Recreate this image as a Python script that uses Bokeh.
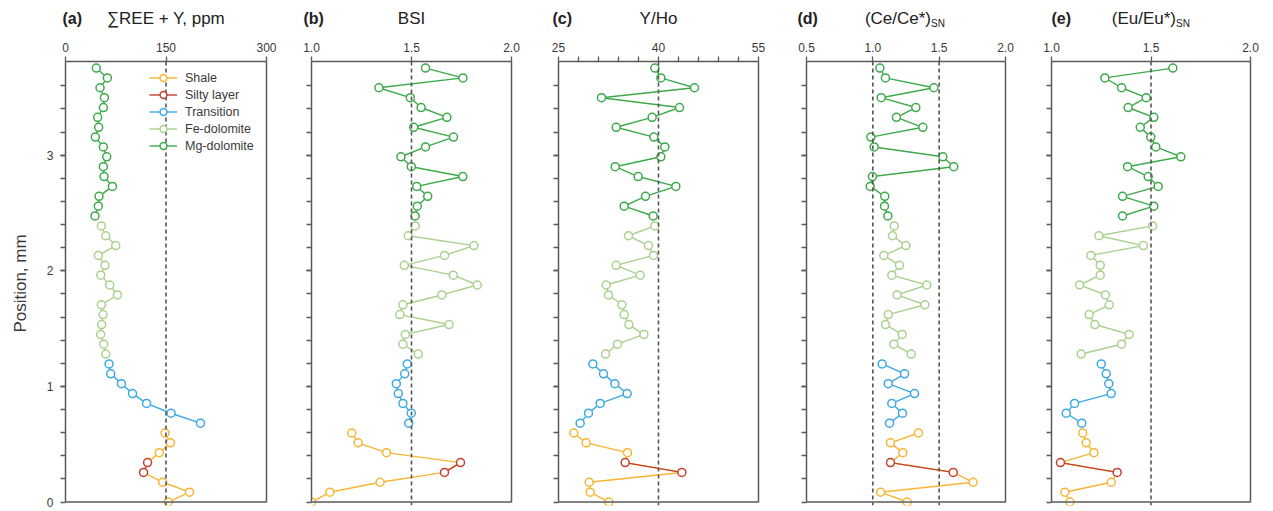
import numpy as np
from bokeh.plotting import figure
from bokeh.models import Range1d, LinearAxis, FixedTicker, Span, Legend, LegendItem
from bokeh.core.properties import value
from bokeh.layouts import row, column
from bokeh.embed import file_html
from bokeh.resources import INLINE

# ---------------- data (bottom -> top) ----------------
# sample positions, mm
pos_lower = [0.000, 0.085, 0.171, 0.256, 0.341, 0.427, 0.512, 0.597]   # shale incl. silty layer
silty_idx = [3, 4]                                                        # silty-layer samples in pos_lower
pos_transition = [0.682, 0.768, 0.853, 0.938, 1.024, 1.109, 1.194]
pos_fe = [1.280, 1.365, 1.450, 1.535, 1.621, 1.706, 1.791, 1.877, 1.962, 2.047,
          2.133, 2.218, 2.303, 2.388]
pos_mg = [2.474, 2.559, 2.644, 2.730, 2.815, 2.900, 2.986, 3.071, 3.156, 3.241,
          3.327, 3.412, 3.497, 3.583, 3.668, 3.753]

# (a) sum REE + Y, ppm
ree_lower = [153.5, 185, 145, 116.5, 122.5, 140, 156.5, 148.5]
ree_transition = [201.5, 157.5, 121, 100, 83.5, 67.5, 65]
ree_fe = [60, 57, 52.5, 54, 56, 53.5, 77.5, 66, 52.5, 59, 49, 75, 60, 53.5]
ree_mg = [44, 49, 50, 70, 57.5, 56.5, 61.5, 56.5, 44.5, 49.5, 48, 56.5, 58, 51.5, 62.5, 46]

# (b) BSI
bsi_lower = [1.00, 1.092, 1.343, 1.665, 1.745, 1.375, 1.233, 1.201]
bsi_transition = [1.486, 1.499, 1.457, 1.434, 1.424, 1.466, 1.479]
bsi_fe = [1.534, 1.457, 1.469, 1.688, 1.442, 1.457, 1.652, 1.829, 1.709, 1.464,
          1.665, 1.812, 1.484, 1.518]
bsi_mg = [1.518, 1.529, 1.581, 1.526, 1.757, 1.499, 1.447, 1.570, 1.710, 1.511,
          1.677, 1.548, 1.494, 1.337, 1.757, 1.570]

# (c) Y/Ho
yho_lower = [32.55, 29.75, 29.6, 43.5, 35.0, 35.35, 29.15, 27.3]
yho_transition = [28.25, 29.5, 31.25, 35.3, 33.45, 31.75, 30.15]
yho_fe = [32.05, 33.85, 37.8, 35.55, 34.85, 34.5, 32.5, 32.15, 37.25, 33.65,
          39.25, 38.5, 35.5, 39.45]
yho_mg = [39.2, 34.85, 38.05, 42.6, 36.95, 33.5, 40.35, 40.95, 39.3, 33.65,
          39.05, 43.15, 31.45, 45.4, 40.35, 39.45]

# (d) (Ce/Ce*)SN
ce_lower = [1.259, 1.058, 1.756, 1.606, 1.133, 1.226, 1.133, 1.344]
ce_transition = [1.126, 1.224, 1.143, 1.314, 1.116, 1.239, 1.07]
ce_fe = [1.289, 1.158, 1.221, 1.095, 1.116, 1.392, 1.183, 1.407, 1.143, 1.201,
         1.083, 1.249, 1.148, 1.161]
ce_mg = [1.113, 1.088, 1.09, 0.98, 0.997, 1.61, 1.528, 1.01, 0.985, 1.377,
         1.178, 1.324, 1.063, 1.46, 1.095, 1.053]

# (e) (Eu/Eu*)SN
eu_lower = [1.092, 1.067, 1.30, 1.33, 1.045, 1.213, 1.174, 1.157]
eu_transition = [1.152, 1.074, 1.116, 1.30, 1.288, 1.275, 1.25]
eu_fe = [1.149, 1.352, 1.39, 1.218, 1.189, 1.29, 1.271, 1.141, 1.245, 1.245,
         1.198, 1.462, 1.238, 1.508]
eu_mg = [1.357, 1.514, 1.357, 1.536, 1.486, 1.382, 1.65, 1.524, 1.499, 1.446,
         1.514, 1.385, 1.476, 1.352, 1.268, 1.610]

legend_labels = ["Shale", "Silty layer", "Transition", "Fe-dolomite", "Mg-dolomite"]

y_ticks = [0, 1, 2, 3]
y_tick_labels = ["0", "1", "2", "3"]
y_label = "Position, mm"

panels = [
    dict(letter="(a)", name="\u2211REE + Y, ppm", sub=None, xr=(0, 300),
         ticks=[0, 150, 300], labels=["0", "150", "300"], minor=[], refs=[150],
         data=(ree_lower, ree_transition, ree_fe, ree_mg), lx=-3),
    dict(letter="(b)", name="BSI", sub=None, xr=(1.0, 2.0),
         ticks=[1.0, 1.5, 2.0], labels=["1.0", "1.5", "2.0"], minor=[], refs=[1.5],
         data=(bsi_lower, bsi_transition, bsi_fe, bsi_mg), lx=-8),
    dict(letter="(c)", name="Y/Ho", sub=None, xr=(25, 55),
         ticks=[25, 40, 55], labels=["25", "40", "55"],
         minor=[28, 31, 34, 37, 43, 46, 49, 52], refs=[40],
         data=(yho_lower, yho_transition, yho_fe, yho_mg), lx=-6),
    dict(letter="(d)", name="(Ce/Ce*)", sub="SN", xr=(0.5, 2.0),
         ticks=[0.5, 1.0, 1.5, 2.0], labels=["0.5", "1.0", "1.5", "2.0"], minor=[], refs=[1.0, 1.5],
         data=(ce_lower, ce_transition, ce_fe, ce_mg), lx=-9),
    dict(letter="(e)", name="(Eu/Eu*)", sub="SN", xr=(1.0, 2.0),
         ticks=[1.0, 1.5, 2.0], labels=["1.0", "1.5", "2.0"], minor=[], refs=[1.5],
         data=(eu_lower, eu_transition, eu_fe, eu_mg), lx=0),
]

# ---------------- style / layout ----------------
FONT = "Liberation Sans"
COL_SHALE = "#F8B534"
COL_SILTY = "#C4402A"
COL_TRANS = "#3DA9E3"
COL_FE = "#A9D18E"
COL_MG = "#3DAA4B"
AX = "#5a5a5a"
TXT = "#3a3a3a"
TITLE = "#222222"

widths = [291, 247, 248, 245, 239]
lefts = [65, 20, 20, 20, 20]
frames = [201, 200, 200, 199, 199]
HEAD = 34            # header strip with panel titles
H = 511 - HEAD       # main figures
TOP = 27
BOTTOM = 6
FH = H - TOP - BOTTOM
Y_START, Y_END = -0.03, 3.81

TOTAL_W = sum(widths)

# header strip holding the panel titles (canvas-pixel coordinates)
head = figure(width=TOTAL_W, height=HEAD, x_range=Range1d(0, TOTAL_W), y_range=Range1d(0, HEAD),
              output_backend="svg", toolbar_location=None,
              min_border_left=0, min_border_right=0, min_border_top=0, min_border_bottom=0)
head.axis.visible = False
head.grid.visible = False
head.outline_line_color = None
head.background_fill_color = "white"
head.border_fill_color = "white"

figs = []
x0 = 0
for i, pn in enumerate(panels):
    p = figure(width=widths[i], height=H,
               x_range=Range1d(*pn["xr"]), y_range=Range1d(Y_START, Y_END),
               x_axis_location="above", output_backend="svg", toolbar_location=None,
               min_border_left=lefts[i], min_border_right=widths[i] - lefts[i] - frames[i],
               min_border_top=TOP, min_border_bottom=BOTTOM)
    p.outline_line_color = None
    p.grid.visible = False
    p.background_fill_color = "white"
    p.border_fill_color = "white"

    # top axis
    xa = p.xaxis[0]
    xa.ticker = FixedTicker(ticks=pn["ticks"], minor_ticks=pn["minor"])
    xa.major_label_overrides = {t: s for t, s in zip(pn["ticks"], pn["labels"])}
    xa.major_tick_out = 5
    xa.major_tick_in = 0
    xa.minor_tick_out = 5
    xa.minor_tick_in = 0
    xa.axis_line_color = AX
    xa.axis_line_width = 1.5
    xa.major_tick_line_color = AX
    xa.minor_tick_line_color = AX
    xa.major_tick_line_width = 1.3
    xa.minor_tick_line_width = 1.3
    xa.major_label_standoff = 5
    xa.major_label_text_font = FONT
    xa.major_label_text_font_size = "12px"
    xa.major_label_text_color = TXT

    # left axis
    ya = p.yaxis[0]
    ya.ticker = FixedTicker(ticks=y_ticks, minor_ticks=list(np.round(np.arange(0.2, 3.7, 0.2), 2)))
    ya.bounds = (0, Y_END)
    ya.major_tick_out = 5
    ya.major_tick_in = 0
    ya.minor_tick_out = 5
    ya.minor_tick_in = 0
    ya.axis_line_color = AX
    ya.axis_line_width = 1.5
    ya.major_tick_line_color = AX
    ya.minor_tick_line_color = AX
    ya.major_tick_line_width = 1.3
    ya.minor_tick_line_width = 1.3
    ya.major_label_text_font = FONT
    ya.major_label_text_font_size = "12px"
    ya.major_label_text_color = TXT
    if i == 0:
        ya.major_label_overrides = {t: s for t, s in zip(y_ticks, y_tick_labels)}
        ya.major_label_standoff = 7
        ya.axis_label = y_label
        ya.axis_label_text_font = FONT
        ya.axis_label_text_font_size = "17px"
        ya.axis_label_text_font_style = "normal"
        ya.axis_label_text_color = TXT
        ya.axis_label_standoff = 14
    else:
        ya.major_label_overrides = {t: "" for t in y_ticks}
        ya.major_label_standoff = 0

    # right border axis
    ra = LinearAxis(ticker=FixedTicker(ticks=[]), bounds=(0, Y_END),
                    axis_line_color=AX, axis_line_width=1.5,
                    major_tick_line_color=None, minor_tick_line_color=None,
                    major_label_text_font_size="0px")
    p.add_layout(ra, "right")

    # bottom border at y = 0
    p.add_layout(Span(location=0, dimension="width", line_color=AX, line_width=1.5))

    # reference lines
    for r in pn["refs"]:
        p.add_layout(Span(location=r, dimension="height", line_color="#555555",
                          line_width=1.6, line_dash="4 3"))

    lower, trans, fe, mg = pn["data"]
    mk = dict(size=8, line_width=1.5, fill_color="white", marker="circle")
    lw = 1.4

    r_sh_line = p.line(lower, pos_lower, line_color=COL_SHALE, line_width=lw)
    s_x = [lower[k] for k in silty_idx]
    s_y = [pos_lower[k] for k in silty_idx]
    r_si_line = p.line(s_x, s_y, line_color=COL_SILTY, line_width=lw)
    sh_x = [v for k, v in enumerate(lower) if k not in silty_idx]
    sh_y = [v for k, v in enumerate(pos_lower) if k not in silty_idx]
    r_sh_pts = p.scatter(sh_x, sh_y, line_color=COL_SHALE, **mk)
    r_si_pts = p.scatter(s_x, s_y, line_color=COL_SILTY, **mk)

    r_tr_line = p.line(trans, pos_transition, line_color=COL_TRANS, line_width=lw)
    r_tr_pts = p.scatter(trans, pos_transition, line_color=COL_TRANS, **mk)
    r_fe_line = p.line(fe, pos_fe, line_color=COL_FE, line_width=lw)
    r_fe_pts = p.scatter(fe, pos_fe, line_color=COL_FE, **mk)
    r_mg_line = p.line(mg, pos_mg, line_color=COL_MG, line_width=lw)
    r_mg_pts = p.scatter(mg, pos_mg, line_color=COL_MG, **mk)

    if i == 0:
        rends = [[r_sh_line, r_sh_pts], [r_si_line, r_si_pts], [r_tr_line, r_tr_pts],
                 [r_fe_line, r_fe_pts], [r_mg_line, r_mg_pts]]
        items = [LegendItem(label=lab, renderers=rr) for lab, rr in zip(legend_labels, rends)]
        leg_h = 5 * 17
        legend = Legend(items=items, location=(84, FH - 8 - leg_h),
                        glyph_width=28, glyph_height=17, label_height=17, spacing=0,
                        padding=0, margin=0, label_standoff=8,
                        label_text_font=FONT, label_text_font_size="12.5px",
                        label_text_color=TXT,
                        border_line_color=None, background_fill_alpha=0)
        p.add_layout(legend)

    # panel titles in the header strip
    fl = x0 + lefts[i]
    fw = frames[i]
    ty = HEAD - 18
    head.text(x=[fl + pn["lx"]], y=[ty], text=[pn["letter"]], text_font=value(FONT),
              text_font_size="16px", text_font_style="bold", text_color=TITLE,
              text_align="left", text_baseline="middle")
    if pn["sub"] is None:
        head.text(x=[fl + fw / 2], y=[ty], text=[pn["name"]], text_font=value(FONT),
                  text_font_size="17px", text_color=TITLE,
                  text_align="center", text_baseline="middle")
    else:
        head.text(x=[fl + fw / 2 + 25], y=[ty], text=[pn["name"]], text_font=value(FONT),
                  text_font_size="17px", text_color=TITLE,
                  text_align="right", text_baseline="middle")
        head.text(x=[fl + fw / 2 + 25], y=[ty - 5], text=[pn["sub"]], text_font=value(FONT),
                  text_font_size="10px", text_color=TITLE,
                  text_align="left", text_baseline="middle")
    x0 += widths[i]
    figs.append(p)

layout = column(head, row(*figs, spacing=0), spacing=0)
open("out.html", "w").write(file_html(layout, INLINE))
